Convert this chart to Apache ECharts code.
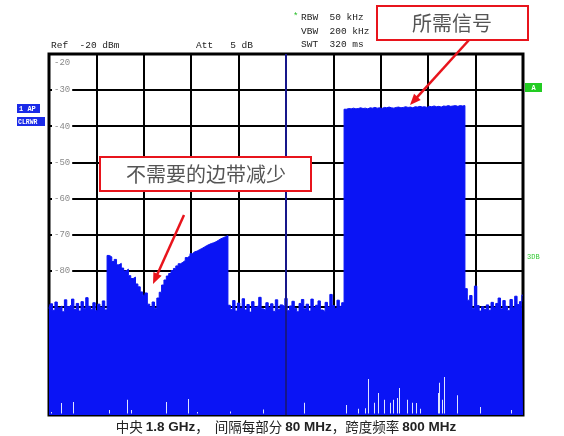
<!DOCTYPE html>
<html><head><meta charset="utf-8">
<script src="https://cdn.jsdelivr.net/npm/echarts@6/dist/echarts.min.js"></script>
<style>html,body{margin:0;padding:0;background:#fff}#c{width:564px;height:436px}</style>
</head><body><div id="c"></div>
<script>
// Spectrum: center 1.8 GHz, span 800 MHz (1.4 .. 2.2 GHz), 80 MHz / div
const freqStartMHz = 1400;
const freqStepMHz = 4;
// trace (dBm) in consecutive 4 MHz bins
const noiseLeft = [-90.5,-89.2,-91.0,-88.7,-90.3,-89.8,-91.4,-88.1,-90.0,-89.5,-87.9,-90.8,-89.1,-91.2,-88.6,-90.4,-87.5,-89.9,-90.7,-88.9,-91.1,-89.3,-90.2,-88.4,-90.9];
const sideband = [-75.8,-76.2,-77.5,-76.9,-78.4,-78.0,-79.3,-80.1,-79.6,-81.4,-82.2,-81.8,-83.7,-84.5,-85.9,-86.8,-86.2,-89.3,-90.1,-88.7,-90.4,-87.6,-86.0,-84.0,-82.6,-81.5,-80.8,-80.0,-79.4,-78.7,-78.1,-77.7,-77.2,-76.4,-75.9,-75.3,-74.8,-74.6,-74.2,-73.9,-73.5,-73.1,-72.8,-72.5,-72.3,-72.0,-71.6,-71.2,-70.9,-70.6,-70.3];
const noiseMid = [-89.6,-90.8,-88.3,-91.2,-89.0,-90.5,-87.8,-90.9,-89.4,-91.5,-88.6,-90.1,-89.7,-87.4,-90.6,-91.0,-88.9,-90.3,-89.2,-91.3,-88.1,-90.7,-89.5,-90.0,-87.7,-91.1,-89.8,-88.5,-90.4,-91.4,-89.1,-88.0,-90.6,-89.3,-91.2,-87.9,-90.2,-89.6,-88.4,-90.9,-91.3,-88.8,-90.1,-86.6,-89.7,-90.5,-88.2,-89.9,-88.9];
const wanted = [-35.3,-35.1,-35.2,-35.0,-35.2,-35.1,-34.9,-35.1,-35.0,-35.2,-34.9,-35.0,-34.8,-35.0,-34.9,-35.1,-34.8,-34.9,-34.7,-34.9,-35.0,-34.8,-34.7,-34.9,-34.8,-34.6,-34.8,-34.7,-34.9,-34.6,-34.7,-34.5,-34.7,-34.6,-34.8,-34.5,-34.6,-34.4,-34.6,-34.5,-34.7,-34.4,-34.5,-34.3,-34.5,-34.4,-34.3,-34.5,-34.3,-34.4,-34.3];
const noiseRight = [-85.0,-88.2,-86.9,-90.4,-84.3,-89.7,-91.2,-90.0,-90.8,-89.5,-91.0,-88.8,-90.2,-89.1,-87.6,-90.6,-88.3,-89.9,-91.1,-88.0,-90.3,-87.1,-89.4,-88.6,-86.8];
// min-trace gaps at the bottom (offset MHz from 1.4 GHz, top dBm)
const gapOffsetsMHz = [4,21,40,102,131,139,198,235,249,305,362,431,502,521,533,538,549,556,566,575,581,587,590,605,613,620,627,656,659,664,666,688,727,780];
const gapTopsDbm = [-119.2,-116.7,-116.4,-118.6,-115.8,-118.6,-116.4,-115.6,-119.2,-119.0,-118.5,-116.6,-117.2,-118.3,-118.1,-110.0,-116.6,-113.9,-115.8,-116.6,-115.8,-115.3,-112.5,-115.8,-116.6,-116.7,-118.3,-113.9,-111.1,-115.8,-109.5,-114.5,-117.8,-118.6];
const yTickLabels = ['-20','-30','-40','-50','-60','-70','-80'];
const centerOffsetMHz = 400;

const trace = noiseLeft.concat(sideband, noiseMid, wanted, noiseRight);
const traceData = trace.map((v, i) => [i * freqStepMHz, v]);
const gapData = gapOffsetsMHz.map((f, i) => [f, gapTopsDbm[i]]);

const BLUE = '#0a14f5';
const RED = '#e8141c';
const mono = 'Liberation Mono';

function arrow(sx, sy, ex, ey) {
  const dx = ex - sx, dy = ey - sy, L = Math.hypot(dx, dy);
  const ux = dx / L, uy = dy / L, nx = -uy, ny = ux, hl = 11, hw = 4.5;
  const bx = ex - ux * hl, by = ey - uy * hl;
  return [
    { type: 'line', z: 100, shape: { x1: sx, y1: sy, x2: bx + ux * 2, y2: by + uy * 2 }, style: { stroke: RED, lineWidth: 2.5 } },
    { type: 'polygon', z: 100, shape: { points: [[ex, ey], [bx + nx * hw, by + ny * hw], [bx - nx * hw, by - ny * hw]] }, style: { fill: RED } }
  ];
}

const chart = echarts.init(document.getElementById('c'), null, { renderer: 'canvas' });
chart.setOption({
  animation: false,
  backgroundColor: '#fff',
  grid: { left: 49, right: 41, top: 54, bottom: 21, show: true, borderColor: '#000', borderWidth: 3, backgroundColor: '#fff' },
  xAxis: {
    type: 'value', min: 0, max: 800, interval: 80,
    axisLabel: { show: false }, axisTick: { show: false }, axisLine: { show: false },
    splitLine: { show: true, lineStyle: { color: '#000', width: 2 } }
  },
  yAxis: {
    type: 'value', min: -120, max: -20, interval: 10,
    axisTick: { show: false }, axisLine: { show: false },
    splitLine: { show: true, lineStyle: { color: '#000', width: 2 } },
    axisLabel: {
      inside: true, margin: 3,
      formatter: v => { const s = String(v); if (!yTickLabels.includes(s)) return ''; return v === -20 ? '{t|' + s + '}' : '{n|' + s + '}'; },
      rich: {
        n: { fontFamily: mono, fontSize: 9, color: '#8a8a8a', backgroundColor: '#fff', padding: [0, 2, 0, 2] },
        t: { fontFamily: mono, fontSize: 9, color: '#8a8a8a', padding: [18, 2, 0, 2] }
      }
    }
  },
  series: [
    {
      type: 'line', data: traceData, step: 'middle', symbol: 'none', z: 2,
      lineStyle: { color: BLUE, width: 1 },
      areaStyle: { color: BLUE, opacity: 1, origin: 'start' },
      markLine: {
        silent: true, symbol: 'none', label: { show: false },
        lineStyle: { color: '#16168a', width: 2, type: 'solid' },
        data: [{ xAxis: centerOffsetMHz }]
      }
    },
    {
      type: 'custom', z: 3, data: gapData,
      renderItem: (params, api) => {
        const x = api.value(0), top = api.value(1);
        const p0 = api.coord([x, -120]), p1 = api.coord([x, top]);
        return { type: 'rect', shape: { x: Math.round(p0[0]), y: p1[1], width: 1, height: p0[1] - 1.5 - p1[1] }, style: { fill: '#dfe3ff' } };
      }
    }
  ],
  graphic: [
    { type: 'text', x: 51, y: 45, style: { text: 'Ref  -20 dBm', font: '9.5px ' + mono, fill: '#222', textVerticalAlign: 'middle' } },
    { type: 'text', x: 196, y: 45, style: { text: 'Att   5 dB', font: '9.5px ' + mono, fill: '#222', textVerticalAlign: 'middle' } },
    { type: 'text', x: 293, y: 17, style: { text: '*', font: '9px ' + mono, fill: '#22bb22', textVerticalAlign: 'middle' } },
    { type: 'text', x: 301, y: 17, style: { text: 'RBW  50 kHz', font: '9.5px ' + mono, fill: '#222', textVerticalAlign: 'middle' } },
    { type: 'text', x: 301, y: 31, style: { text: 'VBW  200 kHz', font: '9.5px ' + mono, fill: '#222', textVerticalAlign: 'middle' } },
    { type: 'text', x: 301, y: 44, style: { text: 'SWT  320 ms', font: '9.5px ' + mono, fill: '#222', textVerticalAlign: 'middle' } },
    { type: 'rect', shape: { x: 17, y: 104, width: 23, height: 9 }, style: { fill: '#1a2ae8' } },
    { type: 'text', x: 19, y: 109, style: { text: '1 AP', font: 'bold 7px ' + mono, fill: '#fff', textVerticalAlign: 'middle' } },
    { type: 'rect', shape: { x: 17, y: 117, width: 28, height: 9 }, style: { fill: '#1a2ae8' } },
    { type: 'text', x: 18, y: 122, style: { text: 'CLRWR', font: 'bold 6.5px ' + mono, fill: '#fff', textVerticalAlign: 'middle' } },
    { type: 'rect', shape: { x: 525, y: 83, width: 17, height: 9 }, style: { fill: '#22cc22' } },
    { type: 'text', x: 533.5, y: 88, style: { text: 'A', font: 'bold 7px ' + mono, fill: '#fff', textAlign: 'center', textVerticalAlign: 'middle' } },
    { type: 'text', x: 527, y: 257, style: { text: '3DB', font: '7px ' + mono, fill: '#33cc33', textVerticalAlign: 'middle' } },
    { type: 'rect', z: 100, shape: { x: 377, y: 6, width: 151, height: 34 }, style: { fill: '#fff', stroke: RED, lineWidth: 2 } },
    { type: 'text', z: 101, x: 452, y: 23, style: { text: '所需信号', font: '20px "Noto Sans CJK SC"', fill: '#555', textAlign: 'center', textVerticalAlign: 'middle' } },
    { type: 'rect', z: 100, shape: { x: 100, y: 157, width: 211, height: 34 }, style: { fill: '#fff', stroke: RED, lineWidth: 2 } },
    { type: 'text', z: 101, x: 206, y: 174, style: { text: '不需要的边带减少', font: '20px "Noto Sans CJK SC"', fill: '#555', textAlign: 'center', textVerticalAlign: 'middle' } },
    ...arrow(469, 40, 410, 105),
    ...arrow(184, 215, 153, 284),
    { type: 'text', x: 286, y: 427, style: {
        text: '{c|中央 }{b|1.8 GHz}{c|，  间隔每部分 }{b|80 MHz}{c|，跨度频率 }{b|800 MHz}',
        textAlign: 'center', textVerticalAlign: 'middle',
        rich: {
          c: { font: '13.5px "Noto Sans CJK SC"', fill: '#222' },
          b: { font: 'bold 13.5px "Liberation Sans"', fill: '#222' }
        }
    } }
  ]
});
</script></body></html>
